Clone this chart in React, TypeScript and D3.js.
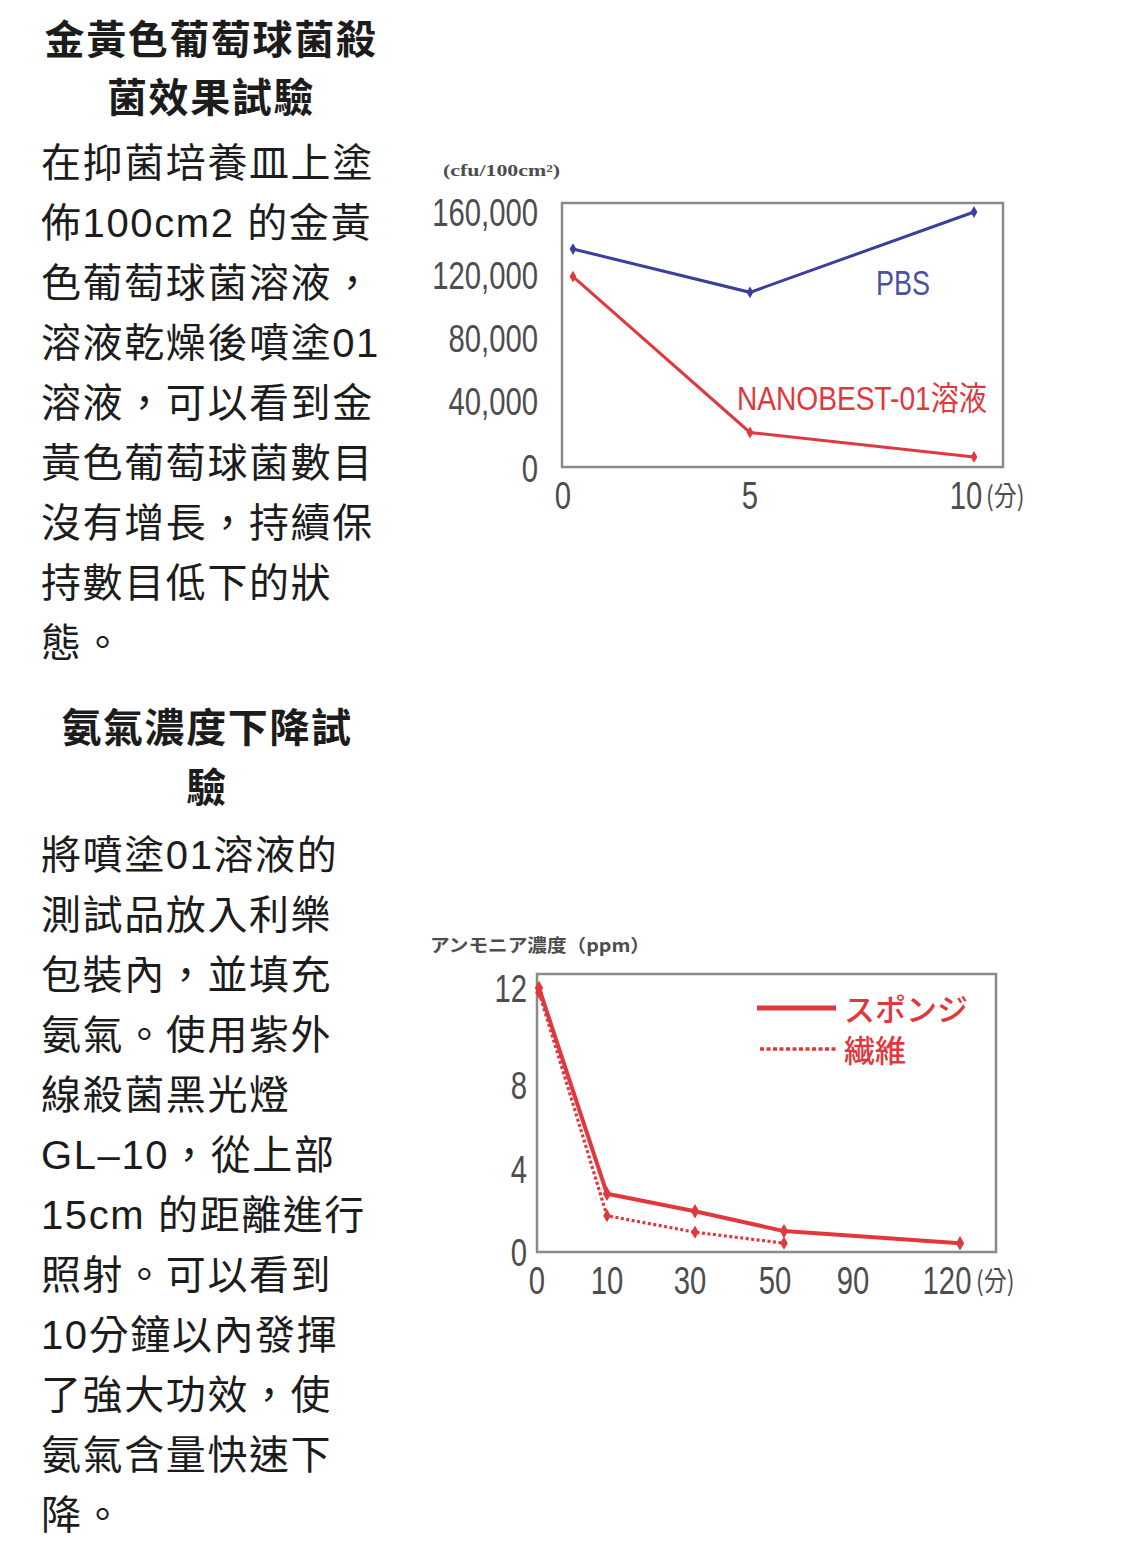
import React from "react";
import * as d3 from "d3";

// ---------- data: chart 1 (Staphylococcus aureus) ----------
const X1_TIMES = [0, 5, 10];
const PBS_VALUES = [136500, 109000, 160000];
const NANO_VALUES = [119000, 20000, 4500];
const Y1_TICKS = [0, 40000, 80000, 120000, 160000];
const X1_TICKS = [0, 5, 10];
const Y1_TITLE = "(cfu/100cm²)";
const PBS_LABEL = "PBS";
const NANO_LABEL = "NANOBEST-01溶液";

// ---------- data: chart 2 (ammonia) ----------
const X2_TICKS = [0, 10, 30, 50, 90, 120];
const SPONGE_TIMES = [0, 10, 30, 50, 120];
const SPONGE_VALUES = [12, 2.65, 1.85, 0.95, 0.4];
const FIBER_TIMES = [0, 10, 30, 50];
const FIBER_VALUES = [11.8, 1.65, 0.9, 0.4];
const Y2_TICKS = [0, 4, 8, 12];
const Y2_TITLE = "アンモニア濃度（ppm）";
const LEGEND_NAMES = ["スポンジ", "繊維"];
const UNIT_LABEL = "(分)";

// ---------- text ----------
const TITLE1 = ["金黃色葡萄球菌殺", "菌效果試驗"];
const BODY1 = [
  "在抑菌培養皿上塗",
  "佈100cm2 的金黃",
  "色葡萄球菌溶液，",
  "溶液乾燥後噴塗01",
  "溶液，可以看到金",
  "黃色葡萄球菌數目",
  "沒有增長，持續保",
  "持數目低下的狀",
  "態。",
];
const TITLE2 = ["氨氣濃度下降試", "驗"];
const BODY2 = [
  "將噴塗01溶液的",
  "測試品放入利樂",
  "包裝內，並填充",
  "氨氣。使用紫外",
  "線殺菌黑光燈",
  "GL–10，從上部",
  "15cm 的距離進行",
  "照射。可以看到",
  "10分鐘以內發揮",
  "了強大功效，使",
  "氨氣含量快速下",
  "降。",
];

const RED = "#e0383c";
const BLUE = "#3a3f9c";
const AXIS_TEXT = "#4d4d4d";
const FRAME = "#8a8a8a";
const SANS = "'Liberation Sans', Arial, sans-serif";
const CJK = "'Liberation Sans', 'Noto Sans CJK TC', sans-serif";

function NarrowText({ x, y, sx = 0.77, anchor = "middle", size, fill, family = SANS, weight = 400, children }:
  { x: number; y: number; sx?: number; anchor?: string; size: number; fill: string; family?: string; weight?: number; children: React.ReactNode }) {
  return (
    <g transform={`translate(${x},${y}) scale(${sx},1)`}>
      <text x={0} y={0} textAnchor={anchor as any} dominantBaseline="central" fontFamily={family}
        fontSize={size} fontWeight={weight} fill={fill}>{children}</text>
    </g>
  );
}

function TextBlock() {
  const lineH = 60;
  return (
    <g fill="#1c1c1c" fontFamily={CJK}>
      {TITLE1.map((t, i) => (
        <text key={"t1" + i} x={211} y={40 + i * 58} textAnchor="middle" dominantBaseline="central"
          fontSize={40} fontWeight={700} letterSpacing={1.6}>{t}</text>
      ))}
      {BODY1.map((t, i) => (
        <text key={"b1" + i} x={41} y={163 + i * lineH} dominantBaseline="central"
          fontSize={40} letterSpacing={1.6}>{t}</text>
      ))}
      {TITLE2.map((t, i) => (
        <text key={"t2" + i} x={207} y={728 + i * 60} textAnchor="middle" dominantBaseline="central"
          fontSize={40} fontWeight={700} letterSpacing={1.6}>{t}</text>
      ))}
      {BODY2.map((t, i) => (
        <text key={"b2" + i} x={41} y={855 + i * lineH} dominantBaseline="central"
          fontSize={40} letterSpacing={1.6}>{t}</text>
      ))}
    </g>
  );
}

function Marker({ x, y, color, size }: { x: number; y: number; color: string; size: number }) {
  const p = d3.symbol().type(d3.symbolDiamond).size(size)();
  return <path d={p || ""} transform={`translate(${x},${y})`} fill={color} />;
}

function Chart1() {
  const x = d3.scaleLinear().domain(X1_TIMES).range([573, 750, 974]);
  const y = d3.scaleLinear().domain([0, 160000]).range([464, 212]);
  const fmt = d3.format(",");
  const line = d3.line<[number, number]>().x((d) => x(d[0])).y((d) => y(d[1]));
  const pbs = X1_TIMES.map((t, i) => [t, PBS_VALUES[i]] as [number, number]);
  const nano = X1_TIMES.map((t, i) => [t, NANO_VALUES[i]] as [number, number]);
  const xLabelDx: Record<number, number> = { 0: -10, 5: 0, 10: -8 };
  return (
    <g>
      <rect x={562} y={203} width={441} height={264} fill="none" stroke={FRAME} strokeWidth={2.5} />
      <text x={443} y={170} fontFamily="'Liberation Serif', serif" fontWeight={700} fontSize={16}
        fill={AXIS_TEXT} dominantBaseline="central" textLength={117} lengthAdjust="spacingAndGlyphs">{Y1_TITLE}</text>
      {Y1_TICKS.map((v) => (
        <NarrowText key={v} x={538} y={y(v) + (v === 0 ? 5 : 1)} anchor="end" size={38} fill={AXIS_TEXT}>{fmt(v)}</NarrowText>
      ))}
      {X1_TICKS.map((v) => (
        <NarrowText key={v} x={x(v) + xLabelDx[v]} y={496} size={38} fill={AXIS_TEXT}>{String(v)}</NarrowText>
      ))}
      <NarrowText x={986} y={494} anchor="start" sx={0.85} size={27} family="'Noto Sans CJK TC', sans-serif" fill={AXIS_TEXT}>{UNIT_LABEL}</NarrowText>
      <path d={line(pbs) || ""} fill="none" stroke={BLUE} strokeWidth={3} />
      <path d={line(nano) || ""} fill="none" stroke={RED} strokeWidth={3} />
      {pbs.map((d, i) => <Marker key={"p" + i} x={x(d[0])} y={y(d[1])} color={BLUE} size={40} />)}
      {nano.map((d, i) => <Marker key={"n" + i} x={x(d[0])} y={y(d[1])} color={RED} size={40} />)}
      <NarrowText x={903} y={283} size={35} fill="#4a52a0">{PBS_LABEL}</NarrowText>
      <text x={737} y={398} dominantBaseline="central" fontFamily="'Liberation Sans', 'Noto Sans CJK JP', sans-serif"
        fontSize={33} fill={RED} textLength={250} lengthAdjust="spacingAndGlyphs">{NANO_LABEL}</text>
    </g>
  );
}

function Chart2() {
  const x = d3.scaleLinear().domain(X2_TICKS).range([539, 607, 695, 784, 862, 960]);
  const y = d3.scaleLinear().domain([0, 12]).range([1252, 988]);
  const line = d3.line<[number, number]>().x((d) => x(d[0])).y((d) => y(d[1]));
  const sponge = SPONGE_TIMES.map((t, i) => [t, SPONGE_VALUES[i]] as [number, number]);
  const fiber = FIBER_TIMES.map((t, i) => [t, FIBER_VALUES[i]] as [number, number]);
  const yLabelDy: Record<number, number> = { 0: 1, 4: 6, 8: 10, 12: 1 };
  const xLabelDx: Record<number, number> = { 0: -2, 10: 0, 30: -5, 50: -9, 90: -9, 120: -13 };
  return (
    <g>
      <rect x={537} y={974} width={459} height={278} fill="none" stroke={FRAME} strokeWidth={2.5} />
      <text x={430} y={944} fontFamily="'Noto Sans CJK JP', sans-serif" fontWeight={700} fontSize={18}
        fill={AXIS_TEXT} dominantBaseline="central" textLength={220} lengthAdjust="spacingAndGlyphs">{Y2_TITLE}</text>
      {Y2_TICKS.map((v) => (
        <NarrowText key={v} x={527} y={y(v) + yLabelDy[v]} anchor="end" size={38} fill={AXIS_TEXT}>{String(v)}</NarrowText>
      ))}
      {X2_TICKS.map((v) => (
        <NarrowText key={v} x={x(v) + xLabelDx[v]} y={1281} size={38} fill={AXIS_TEXT}>{String(v)}</NarrowText>
      ))}
      <NarrowText x={976} y={1279} anchor="start" sx={0.85} size={27} family="'Noto Sans CJK TC', sans-serif" fill={AXIS_TEXT}>{UNIT_LABEL}</NarrowText>
      <path d={line(fiber) || ""} fill="none" stroke={RED} strokeWidth={3.2} strokeDasharray="3,2.5" />
      <path d={line(sponge) || ""} fill="none" stroke={RED} strokeWidth={4} />
      {sponge.map((d, i) => <Marker key={"s" + i} x={x(d[0])} y={y(d[1])} color={RED} size={60} />)}
      {fiber.map((d, i) => <Marker key={"f" + i} x={x(d[0])} y={y(d[1])} color={RED} size={50} />)}
      <line x1={757} x2={836} y1={1008} y2={1008} stroke={RED} strokeWidth={5} />
      <line x1={760} x2={836} y1={1049} y2={1049} stroke={RED} strokeWidth={3.5} strokeDasharray="4,2.5" />
      {LEGEND_NAMES.map((n, i) => (
        <text key={n} x={844} y={1007 + i * 41} dominantBaseline="central" fontFamily="'Noto Sans CJK JP', sans-serif"
          fontWeight={500} fontSize={31} fill={RED}>{n}</text>
      ))}
    </g>
  );
}

export default function App() {
  return (
    <svg width={1125} height={1566} viewBox="0 0 1125 1566"
      style={{ position: "absolute", left: 0, top: 0, background: "#fff" }}>
      <rect x={0} y={0} width={1125} height={1566} fill="#fff" />
      <TextBlock />
      <Chart1 />
      <Chart2 />
    </svg>
  );
}
